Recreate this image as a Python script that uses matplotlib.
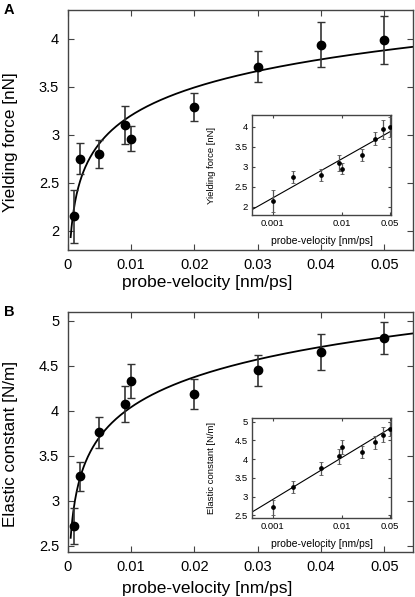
import numpy as np
import matplotlib
matplotlib.use('Agg')
import matplotlib.pyplot as plt

plt.rcParams['font.family'] = ['Liberation Sans', 'DejaVu Sans']

# data
velocity = [0.001, 0.002, 0.005, 0.009, 0.01, 0.02, 0.03, 0.04, 0.05]
force = [2.15, 2.75, 2.80, 3.10, 2.96, 3.29, 3.71, 3.94, 3.99]
force_err = [0.28, 0.16, 0.15, 0.20, 0.13, 0.15, 0.16, 0.23, 0.25]
elastic = [2.72, 3.27, 3.76, 4.08, 4.33, 4.19, 4.45, 4.65, 4.81]
elastic_err = [0.20, 0.16, 0.17, 0.20, 0.19, 0.17, 0.17, 0.20, 0.18]

# logarithmic fits y = a + b*log10(v)
force_fit = (5.146, 0.973)
elastic_fit = (6.272, 1.116)

W, H = 415, 597
fig = plt.figure(figsize=(W / 100, H / 100), dpi=100)

spine_col = '#444444'


def style(ax, fs, tl):
    for s in ax.spines.values():
        s.set_color(spine_col)
        s.set_linewidth(1.0)
    ax.tick_params(direction='in', top=True, right=True, labelsize=fs,
                   length=tl, width=0.8, color=spine_col)
    ax.tick_params(which='minor', length=0)


def panel(bottom_px, ins_bottom_px, y, yerr, fit, ylim, yticks, ylabel, letter, xlab_y):
    ax = fig.add_axes([67.5 / W, (H - bottom_px) / H, 345.5 / W, 240 / H])
    vfit = np.linspace(0.0005, 0.0545, 400)
    ax.plot(vfit, fit[0] + fit[1] * np.log10(vfit), color='black', lw=1.3, zorder=2)
    ax.errorbar(velocity, y, yerr=yerr, fmt='o', color='black', ms=6,
                elinewidth=1.2, ecolor='#333333', capsize=3, capthick=1.0, zorder=3)
    ax.set_xlim(0, 0.0545)
    ax.set_ylim(*ylim)
    ax.set_xticks([0, 0.01, 0.02, 0.03, 0.04, 0.05])
    ax.set_xticklabels(['0', '0.01', '0.02', '0.03', '0.04', '0.05'])
    ax.set_yticks(yticks)
    ax.set_yticklabels([('%g' % t) for t in yticks])
    style(ax, 10.5, 4)
    ax.tick_params(axis='x', pad=6)
    ax.tick_params(axis='y', pad=6)
    ax.set_xlabel('probe-velocity [nm/ps]', fontsize=12.5)
    ax.set_ylabel(ylabel, fontsize=12.3)
    # labels sit a little off the axes centre in the original
    ax.xaxis.set_label_coords(0.404, xlab_y)
    ax.yaxis.set_label_coords(-0.166, 0.45)
    ax.xaxis.label.set_va('center')
    ax.yaxis.label.set_va('center')
    fig.text(4 / W, 1 - (bottom_px - 250 + 3) / H, letter, fontsize=10.5,
             fontweight='bold', va='top', ha='left')

    ins = fig.add_axes([252 / W, (H - ins_bottom_px) / H, 139 / W, 100 / H])
    vl = np.logspace(np.log10(0.0005), np.log10(0.052), 50)
    ins.plot(vl, fit[0] + fit[1] * np.log10(vl), color='black', lw=0.8, zorder=2)
    ins.errorbar(velocity, y, yerr=yerr, fmt='o', color='black', ms=2.4,
                 elinewidth=0.9, ecolor='#555555', capsize=1.2, capthick=0.6, zorder=3)
    ins.set_xscale('log')
    ins.set_xlim(0.0005, 0.052)
    ins.set_ylim(*ylim)
    ins.set_xticks([0.001, 0.01, 0.05])
    ins.set_xticklabels(['0.001', '0.01', '0.05'])
    ins.set_yticks(yticks)
    ins.set_yticklabels([('%g' % t) for t in yticks])
    style(ins, 6.8, 2.5)
    ins.tick_params(pad=3)
    ins.set_xlabel('probe-velocity [nm/ps]', fontsize=7.5)
    ins.set_ylabel(ylabel, fontsize=6.8)
    ins.xaxis.set_label_coords(0.5, -0.26)
    ins.yaxis.set_label_coords(-0.29, 0.5)
    ins.xaxis.label.set_va('center')
    ins.yaxis.label.set_va('center')


panel(250, 215, force, force_err, force_fit, (1.8, 4.3),
      [2, 2.5, 3, 3.5, 4], 'Yielding force [nN]', 'A', -0.1375)
panel(552, 518, elastic, elastic_err, elastic_fit, (2.43, 5.1),
      [2.5, 3, 3.5, 4, 4.5, 5], 'Elastic constant [N/m]', 'B', -0.154)

fig.savefig('out.png', dpi=100)
